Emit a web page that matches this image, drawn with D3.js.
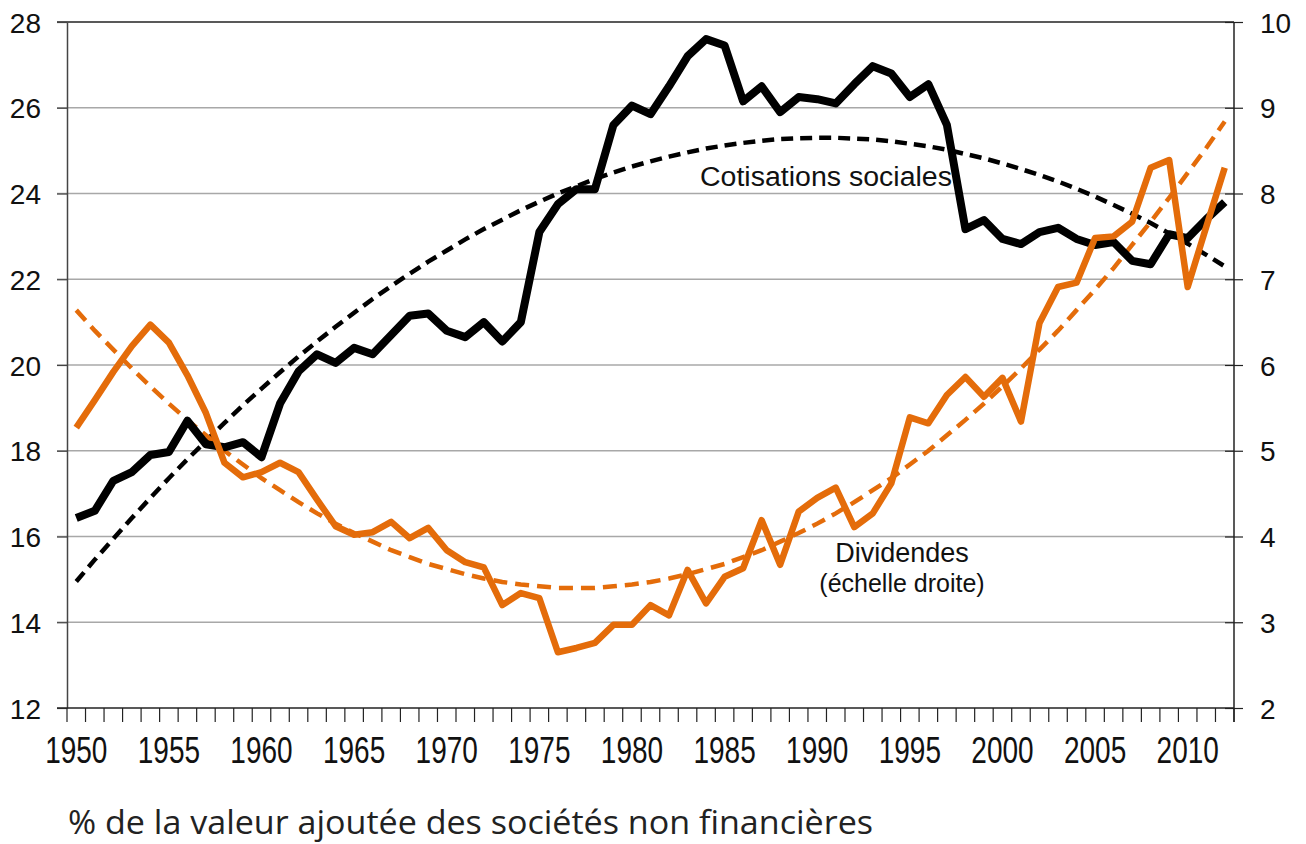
<!DOCTYPE html>
<html>
<head>
<meta charset="utf-8">
<script src="https://cdn.jsdelivr.net/npm/d3@7"></script>
<style>
  html, body { margin: 0; padding: 0; background: #fff; }
  svg { display: block; }
</style>
</head>
<body>
<svg id="chart" width="1306" height="844"></svg>
<script>
// ---------- DATA ----------
const years = d3.range(1950, 2013); // 1950..2012 categories

// Cotisations sociales (left axis, % VA)
const cotisations = [
  16.43, 16.6, 17.3, 17.5, 17.9, 17.97, 18.7, 18.15, 18.08, 18.2,
  17.85, 19.1, 19.85, 20.25, 20.05, 20.4, 20.25, 20.7, 21.15, 21.2,
  20.8, 20.65, 21.0, 20.55, 21.0, 23.1, 23.75, 24.1, 24.1, 25.6,
  26.05, 25.85, 26.5, 27.2, 27.6, 27.45, 26.15, 26.5, 25.9, 26.25,
  26.2, 26.1, 26.55, 26.97, 26.8, 26.25, 26.55, 25.6, 23.17, 23.38,
  22.94, 22.82, 23.1, 23.2, 22.94, 22.8, 22.87, 22.43, 22.35, 23.05,
  22.96, 23.4, 23.8
];

// Tendance des cotisations (left axis)
const cotisationsTrend = [
  14.95, 15.46, 15.95, 16.43, 16.90, 17.36, 17.80, 18.23, 18.65, 19.06,
  19.45, 19.83, 20.20, 20.55, 20.89, 21.22, 21.54, 21.84, 22.13, 22.41,
  22.67, 22.93, 23.17, 23.39, 23.61, 23.81, 24.00, 24.17, 24.34, 24.49,
  24.63, 24.75, 24.86, 24.96, 25.05, 25.12, 25.18, 25.23, 25.27, 25.29,
  25.30, 25.30, 25.28, 25.26, 25.22, 25.16, 25.10, 25.02, 24.92, 24.82,
  24.70, 24.57, 24.43, 24.28, 24.11, 23.93, 23.73, 23.53, 23.31, 23.07,
  22.83, 22.57, 22.30
];

// Dividendes (right axis, % VA)
const dividendes = [
  5.27, 5.59, 5.92, 6.22, 6.47, 6.26, 5.88, 5.44, 4.86, 4.69,
  4.75, 4.86, 4.75, 4.43, 4.12, 4.02, 4.05, 4.17, 3.98, 4.10,
  3.84, 3.70, 3.64, 3.20, 3.34, 3.28, 2.65, 2.70, 2.76, 2.97,
  2.97, 3.20, 3.08, 3.61, 3.22, 3.53, 3.63, 4.19, 3.67, 4.29,
  4.45, 4.57, 4.11, 4.27, 4.62, 5.39, 5.32, 5.65, 5.86, 5.63,
  5.85, 5.34, 6.49, 6.91, 6.96, 7.48, 7.50, 7.67, 8.30, 8.39,
  6.91, 7.61, 8.30
];

// Tendance des dividendes (right axis)
const dividendesTrend = [
  6.64, 6.40, 6.18, 5.96, 5.75, 5.55, 5.36, 5.18, 5.00, 4.84,
  4.68, 4.54, 4.40, 4.27, 4.15, 4.04, 3.94, 3.84, 3.76, 3.68,
  3.62, 3.56, 3.51, 3.47, 3.44, 3.42, 3.40, 3.40, 3.40, 3.42,
  3.44, 3.47, 3.51, 3.56, 3.62, 3.68, 3.76, 3.84, 3.94, 4.04,
  4.15, 4.27, 4.40, 4.54, 4.68, 4.84, 5.00, 5.18, 5.36, 5.55,
  5.75, 5.96, 6.18, 6.40, 6.64, 6.88, 7.13, 7.40, 7.67, 7.95,
  8.24, 8.53, 8.84
];

const leftTicks = [12, 14, 16, 18, 20, 22, 24, 26, 28];
const rightTicks = [2, 3, 4, 5, 6, 7, 8, 9, 10];
const xLabelYears = [1950, 1955, 1960, 1965, 1970, 1975, 1980, 1985, 1990, 1995, 2000, 2005, 2010];

const labelCotisations = "Cotisations sociales";
const labelDividendes = ["Dividendes", "(échelle droite)"];
const subtitle = "% de la valeur ajoutée des sociétés non financières";

// ---------- LAYOUT ----------
const plot = { left: 67, right: 1234, top: 22, bottom: 708 };
const ORANGE = "#E46C0A";
const svg = d3.select("#chart");

const x = d3.scaleBand().domain(years).range([plot.left, plot.right]).padding(0);
const xc = yr => x(yr) + x.bandwidth() / 2;
const yL = d3.scaleLinear().domain([12, 28]).range([plot.bottom, plot.top]);
const yR = d3.scaleLinear().domain([2, 10]).range([plot.bottom, plot.top]);

// Gridlines (left scale), extended to the left as ticks
svg.append("g").selectAll("line").data(leftTicks.filter(t => t !== 12)).join("line")
  .attr("x1", plot.left - 10).attr("x2", plot.right)
  .attr("y1", d => yL(d)).attr("y2", d => yL(d))
  .attr("stroke", d => d === 28 ? "#222" : "#a8a8a8")
  .attr("stroke-width", d => d === 28 ? 1.6 : 1.4);

// Left axis
const gL = svg.append("g").attr("transform", `translate(${plot.left},0)`)
  .call(d3.axisLeft(yL).tickValues(leftTicks).tickSize(10).tickSizeOuter(0).tickFormat(d3.format("d")));
gL.select(".domain").attr("stroke", "#444").attr("stroke-width", 1.5);
gL.selectAll(".tick line").attr("stroke", "#444").attr("stroke-width", 1.2);
gL.selectAll(".tick text").attr("x", -26).attr("dy", "0.36em")
  .attr("font-family", "'Liberation Sans', Arial, sans-serif").attr("font-size", 28).attr("fill", "#111");

// Right axis
const gR = svg.append("g").attr("transform", `translate(${plot.right},0)`)
  .call(d3.axisRight(yR).tickValues(rightTicks).tickSize(9).tickSizeOuter(0).tickFormat(d3.format("d")));
gR.select(".domain").attr("stroke", "#222").attr("stroke-width", 1.5)
  .attr("d", `M0,${plot.top}V${plot.bottom + 14}`);
gR.selectAll(".tick line").attr("x1", -9).attr("stroke", "#222").attr("stroke-width", 1.2);
gR.selectAll(".tick text").attr("x", 26).attr("dy", "0.36em")
  .attr("font-family", "'Liberation Sans', Arial, sans-serif").attr("font-size", 28).attr("fill", "#111");

// Bottom axis: ticks at band boundaries
const boundaries = years.map(yr => x(yr)).concat([plot.right]);
const gB = svg.append("g");
gB.append("line").attr("x1", plot.left - 10).attr("x2", plot.right)
  .attr("y1", plot.bottom).attr("y2", plot.bottom).attr("stroke", "#222").attr("stroke-width", 1.5);
gB.selectAll("line.tk").data(boundaries).join("line").attr("class", "tk")
  .attr("x1", d => d).attr("x2", d => d)
  .attr("y1", plot.bottom).attr("y2", plot.bottom + 14)
  .attr("stroke", "#222").attr("stroke-width", 1.2);
gB.selectAll("text").data(xLabelYears).join("text")
  .attr("transform", d => `translate(${xc(d)},763) scale(1,1.3)`)
  .attr("text-anchor", "middle")
  .attr("font-family", "'Liberation Sans', Arial, sans-serif").attr("font-size", 28).attr("fill", "#111")
  .text(d => d);

// Lines
const lineL = d3.line().x((d, i) => xc(years[i])).y(d => yL(d));
const lineR = d3.line().x((d, i) => xc(years[i])).y(d => yR(d));

svg.append("path").datum(cotisationsTrend).attr("d", lineL)
  .attr("fill", "none").attr("stroke", "#000").attr("stroke-width", 4.5).attr("stroke-dasharray", "12,7");
svg.append("path").datum(dividendesTrend).attr("d", lineR)
  .attr("fill", "none").attr("stroke", ORANGE).attr("stroke-width", 4.5).attr("stroke-dasharray", "14,8");
svg.append("path").datum(cotisations).attr("d", lineL)
  .attr("fill", "none").attr("stroke", "#000").attr("stroke-width", 8).attr("stroke-linejoin", "round");
svg.append("path").datum(dividendes).attr("d", lineR)
  .attr("fill", "none").attr("stroke", ORANGE).attr("stroke-width", 6.5).attr("stroke-linejoin", "round");

// Annotations
const annFont = "'Liberation Sans', Arial, sans-serif";
svg.append("text").attr("x", 700).attr("y", 186)
  .attr("font-family", annFont).attr("font-size", 27).attr("fill", "#111")
  .attr("textLength", 252).attr("lengthAdjust", "spacingAndGlyphs")
  .text(labelCotisations);
svg.append("text").attr("x", 902).attr("y", 562).attr("text-anchor", "middle")
  .attr("font-family", annFont).attr("font-size", 27).attr("fill", "#111")
  .text(labelDividendes[0]);
svg.append("text").attr("x", 902).attr("y", 592).attr("text-anchor", "middle")
  .attr("font-family", annFont).attr("font-size", 25).attr("fill", "#111")
  .text(labelDividendes[1]);

// Subtitle
svg.append("text").attr("x", 68).attr("y", 834)
  .attr("font-family", "'Open Sans', 'Noto Sans', sans-serif").attr("font-size", 33).attr("fill", "#222")
  .attr("textLength", 805).attr("lengthAdjust", "spacingAndGlyphs")
  .text(subtitle);
</script>
</body>
</html>
